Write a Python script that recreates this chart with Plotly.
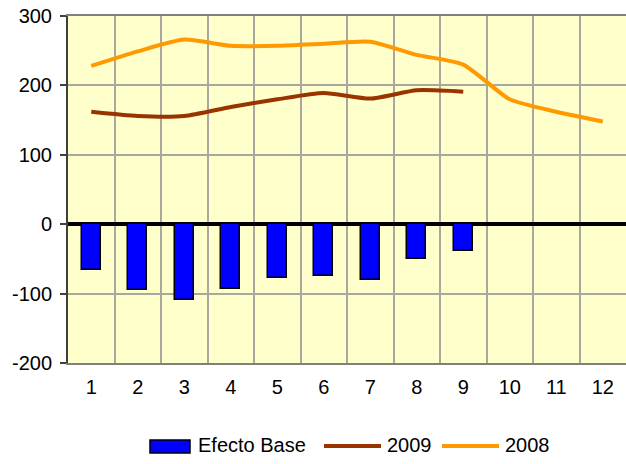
import plotly.graph_objects as go

months = ["1", "2", "3", "4", "5", "6", "7", "8", "9", "10", "11", "12"]
efecto_base = [-66, -95, -109, -93, -78, -75, -81, -50, -38]
y2009 = [162, 156, 156, 169, 180, 189, 181, 193, 191]
y2008 = [228, 249, 266, 257, 257, 260, 263, 244, 230, 180, 162, 148]
y_ticks = [-200, -100, 0, 100, 200, 300]
y_tick_labels = [str(v) for v in y_ticks]

W, H = 626, 464
L, R, T, B = 68, 0, 16, 101
PW, PH = W - L - R, H - T - B
FONT = "Liberation Sans, Arial, sans-serif"

fig = go.Figure()
fig.add_trace(go.Bar(x=months[:len(efecto_base)], y=efecto_base, name="Efecto Base",
                     marker=dict(color="#0000FF", line=dict(color="#000000", width=1.5)),
                     width=0.41))
fig.add_trace(go.Scatter(x=months[:len(y2009)], y=y2009, name="2009", mode="lines",
                         line=dict(color="#993300", width=4, shape="spline", smoothing=0.6)))
fig.add_trace(go.Scatter(x=months, y=y2008, name="2008", mode="lines",
                         line=dict(color="#FF9900", width=4, shape="spline", smoothing=0.6)))


def px_x(p):
    return (p - L) / PW


def px_y(p):
    return (H - B - p) / PH


shapes = [
    dict(type="rect", xref="paper", yref="paper", x0=px_x(150), x1=px_x(190),
         y0=px_y(453), y1=px_y(440), fillcolor="#0000FF", line=dict(color="#000000", width=1.5)),
    dict(type="line", xref="paper", yref="paper", x0=px_x(324), x1=px_x(381),
         y0=px_y(446), y1=px_y(446), line=dict(color="#993300", width=4)),
    dict(type="line", xref="paper", yref="paper", x0=px_x(442), x1=px_x(499),
         y0=px_y(446), y1=px_y(446), line=dict(color="#FF9900", width=4)),
]
annotations = []
for label, left in [("Efecto Base", 196), ("2009", 385), ("2008", 503)]:
    annotations.append(dict(text=label, xref="paper", yref="paper", x=px_x(left), y=px_y(445),
                            xanchor="left", yanchor="middle", showarrow=False,
                            font=dict(size=20, color="#000000", family=FONT)))

fig.update_layout(
    width=W, height=H,
    margin=dict(l=L, r=R, t=T, b=B, autoexpand=False),
    paper_bgcolor="#FFFFFF",
    plot_bgcolor="#FFFFCC",
    showlegend=False,
    bargap=0,
    font=dict(family=FONT, size=19, color="#000000"),
    shapes=shapes,
    annotations=annotations,
)
fig.update_xaxes(type="category", categoryorder="array", categoryarray=months,
                 range=[-0.5, len(months) - 0.5], autorange=False,
                 tickson="boundaries", ticks="", showgrid=True, gridcolor="#A8A8A0", gridwidth=1.5,
                 showline=True, linecolor="#808080", linewidth=2, mirror=True, automargin=False,
                 ticklabelstandoff=5, tickfont=dict(size=20))
fig.update_yaxes(range=[-200, 300], tickvals=y_ticks, ticktext=y_tick_labels,
                 showgrid=True, gridcolor="#A8A8A0",
                 gridwidth=1.5, zeroline=True, zerolinecolor="#000000", zerolinewidth=4,
                 showline=True, linecolor="#404040", linewidth=2, automargin=False,
                 ticks="outside", ticklen=6, tickcolor="#404040", tickwidth=1.5,
                 ticklabelstandoff=4, tickfont=dict(size=20))

fig.write_html("out.html", config={"displayModeBar": False},
               post_script="document.body.style.margin='0';document.body.style.overflow='hidden';")
